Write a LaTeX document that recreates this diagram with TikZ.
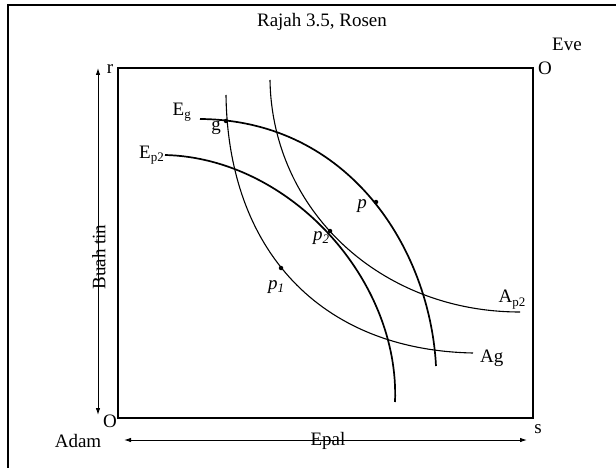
\documentclass[tikz,border=0pt]{standalone}
\usepackage{fontspec}
\setmainfont{Liberation Serif}
\usepackage{tikz}
\usetikzlibrary{arrows.meta, positioning}
\newcommand{\lowsub}[1]{\raisebox{-0.4ex}{\fontsize{13}{14}\selectfont #1}}
\begin{document}
\begin{tikzpicture}[
    x=1pt, y=-1pt,
    frameline/.style={line width=2pt, black},
    boxline/.style={line width=1.6pt, black},
    eveline/.style={line width=1.7pt},
    adamline/.style={line width=1.1pt},
    axisarrow/.style={{Latex[length=7pt,width=4.5pt]}-{Latex[length=7pt,width=4.5pt]}, line width=0.9pt},
    dot/.style={circle, fill=black, inner sep=0pt, minimum size=4.5pt},
    every node/.style={font=\fontsize{19}{22}\selectfont, inner sep=1pt}
]
\clip (0,0) rectangle (616,468);
\fill[white] (0,0) rectangle (616,468);
\draw[frameline] (8,5) rectangle (640,490);
\node (title) at (322,22) {Rajah 3.5, Rosen};
% the box
\coordinate (adamO) at (118,418);
\coordinate (eveO) at (533,68);
\draw[boxline] (adamO) rectangle (eveO);
\node[anchor=west] (eveOlbl) at ([xshift=4pt]eveO) {O};
\node (eve) at (567,44) {Eve};
\node (adamOlbl) at (110,421) {O};
\node (adam) at (78,441) {Adam};
% axes
\coordinate (rtop) at (98,68);
\coordinate (rbot) at (98,415);
\draw[axisarrow] (rbot) -- (rtop);
\node (r) at (110,69) {r};
\node[rotate=90] (buahtin) at (99,257) {Buah tin};
\coordinate (sleft) at (124,440);
\coordinate (sright) at (527,440);
\draw[axisarrow] (sleft) -- (sright);
\node (s) at (538,429) {s};
\node (epal) at (328,441) {Epal};
% Eve's curves
\coordinate (egstart) at (200,119);
\coordinate (egend) at (436,366);
\draw[eveline] (egstart) .. controls (350,120) and (430,250) .. (egend);
\coordinate (epstart) at (165,155);
\coordinate (epend) at (395,402);
\draw[eveline] (epstart) .. controls (290,158) and (400,280) .. (epend);
\node[anchor=south east] (eglbl) at (192,123) {E\lowsub{g}};
\node[anchor=east] (eplbl) at (epstart) {E\lowsub{p2}};
% Adam's curves
\coordinate (agstart) at (226,95);
\coordinate (agend) at (473,353);
\draw[adamline] (agstart) .. controls (228,250) and (320,350) .. (agend);
\coordinate (apstart) at (270,80);
\coordinate (apend) at (520,312);
\draw[adamline] (apstart) .. controls (272,210) and (380,312) .. (apend);
\node[anchor=west] (aglbl) at ([xshift=6pt,yshift=-5pt]agend) {Ag};
\node[anchor=south] (aplbl) at ([xshift=-8pt,yshift=2pt]apend) {A\lowsub{p2}};
% points
\node[dot] (g) at (226,121) {};
\node[dot] (p) at (376,202) {};
\node[dot] (ptwo) at (330,231) {};
\node[dot] (pone) at (281,268) {};
\node (glbl) at (216,128) {g};
\node (plbl) at (362,206) {\textit{p}};
\node (ptwolbl) at (321,238) {\textit{p}\lowsub{\textit{2}}};
\node (ponelbl) at (276,287) {\textit{p}\lowsub{\textit{1}}};
\end{tikzpicture}
\end{document}
